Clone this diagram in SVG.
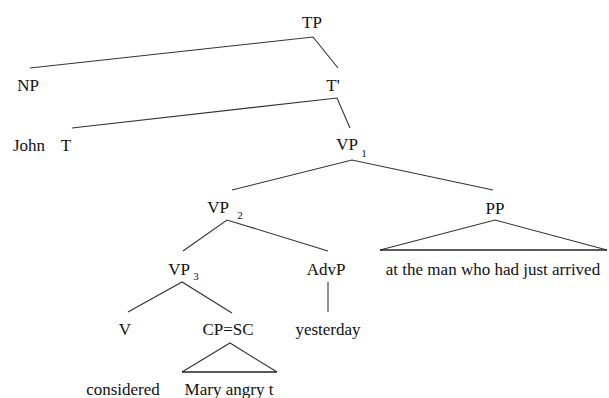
<svg xmlns="http://www.w3.org/2000/svg" width="609" height="398" viewBox="0 0 609 398">
<style>
text{font-family:'Liberation Serif','Times New Roman',serif !important;font-size:17px;fill:#111;text-anchor:middle}
text.sub{font-size:11px}
.l{stroke:#333;stroke-width:1.1;fill:none}
.b{stroke:#222;stroke-width:1.4}
</style>
<rect width="609" height="398" fill="#fff"/>
<g id="connectors">
<path class="l" d="M30 68 L313 37 L338 68"/>
<path class="l" d="M72 128 L337 98 L350 128"/>
<path class="l" d="M232 190 L352 160 L493 190"/>
<path class="l" d="M183 251 L227 220 L328 251"/>
<path class="l" d="M128 312 L182 282 L232 313"/>
<path class="l" d="M328 282 L328 312"/>
<path class="l" d="M182 372 L230 343 L277 372"/>
<path class="l b" d="M182 372 L277 372"/>
<path class="l" d="M380 250 L495 220 L607 250"/>
<path class="l b" d="M380 250 L607 250"/>
</g>
<g id="TP"><text x="312" y="28" font-family="Liberation Serif">TP</text></g>
<g id="NP"><text x="28" y="91" font-family="Liberation Serif">NP</text></g>
<g id="Tbar"><text x="333" y="91" font-family="Liberation Serif">T'</text></g>
<g id="John"><text x="29" y="151" font-family="Liberation Serif">John</text></g>
<g id="T"><text x="66" y="151" font-family="Liberation Serif">T</text></g>
<g id="VP1"><text x="347" y="150" font-family="Liberation Serif">VP</text><text class="sub" x="364" y="157" font-family="Liberation Serif">1</text></g>
<g id="VP2"><text x="218" y="213" font-family="Liberation Serif">VP</text><text class="sub" x="240" y="219" font-family="Liberation Serif">2</text></g>
<g id="PP"><text x="495" y="214" font-family="Liberation Serif">PP</text></g>
<g id="VP3"><text x="179" y="275" font-family="Liberation Serif">VP</text><text class="sub" x="196" y="280" font-family="Liberation Serif">3</text></g>
<g id="AdvP"><text x="326" y="275" font-family="Liberation Serif">AdvP</text></g>
<g id="V"><text x="125" y="335" font-family="Liberation Serif">V</text></g>
<g id="CPSC"><text x="228" y="335" font-family="Liberation Serif">CP=SC</text></g>
<g id="yesterday"><text x="328" y="335" font-family="Liberation Serif">yesterday</text></g>
<g id="considered"><text x="123" y="395" font-family="Liberation Serif">considered</text></g>
<g id="MaryAngryT"><text x="229" y="395" font-family="Liberation Serif">Mary angry t</text></g>
<g id="PPtext"><text x="493" y="275" font-family="Liberation Serif">at the man who had just arrived</text></g>
</svg>
